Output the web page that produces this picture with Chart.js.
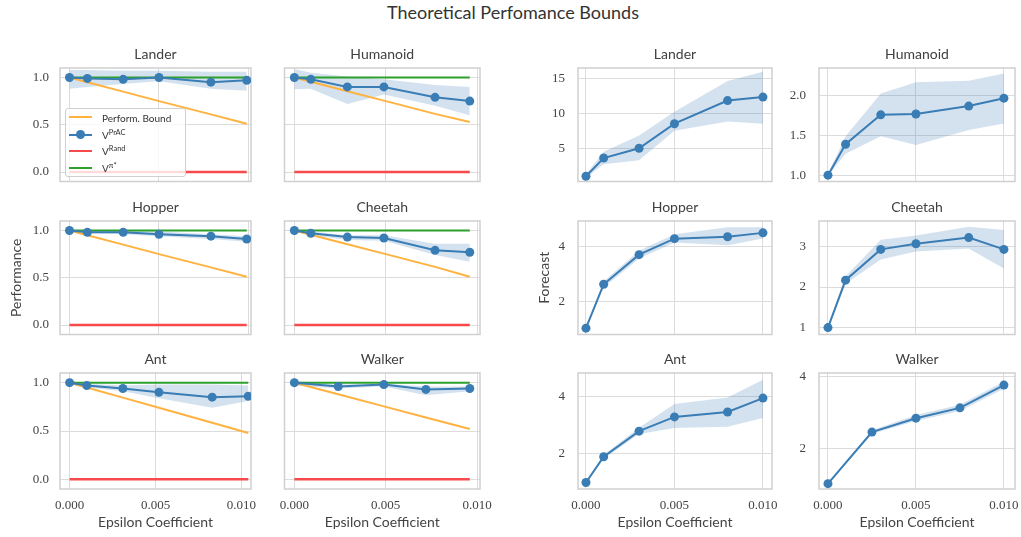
<!DOCTYPE html>
<html>
<head>
<meta charset="utf-8">
<script src="https://cdn.jsdelivr.net/npm/chart.js@4.4.0/dist/chart.umd.min.js"></script>
<style>
body{margin:0;background:#fff;width:1021px;height:537px;overflow:hidden;position:relative;font-family:Lato,sans-serif}
canvas{position:absolute}
#suptitle{position:absolute;left:0;top:0;width:1026px;text-align:center;font-size:18px;line-height:24px;color:#333}
#legend{position:absolute;left:65px;top:108px;width:121px;height:69px;box-sizing:border-box;background:rgba(255,255,255,0.8);border:1px solid #d0d0d0;border-radius:3px;z-index:5;color:#333;font-size:10px}
#legend .ln{position:absolute;left:3px;width:23px;height:2px}
#legend .dot{position:absolute;left:10px;width:9px;height:9px;border-radius:50%}
#legend .tx{position:absolute;left:36px;line-height:12px;white-space:nowrap}
#legend sup{font-size:7.5px;vertical-align:4px;line-height:0}
</style>
</head>
<body>
<div id="suptitle">Theoretical Perfomance Bounds</div>
<div id="legend">
  <span class="ln" style="top:7px;background:#ffb23f"></span><span class="tx" style="top:3px">Perform. Bound</span>
  <span class="ln" style="top:25px;background:#3a7db5"></span><span class="dot" style="top:21px;background:#3a7db5"></span><span class="tx" style="top:20px">V<sup>PrAC</sup></span>
  <span class="ln" style="top:41px;background:#f74a4a"></span><span class="tx" style="top:36px">V<sup>Rand</sup></span>
  <span class="ln" style="top:58px;background:#2ca02c"></span><span class="tx" style="top:53px">V<sup>π*</sup></span>
</div>
<script>
// x values (epsilon) as read per panel
const epsLeft1 = [0, 0.001, 0.003, 0.005, 0.0079, 0.0099];      // Lander, Hopper (left)
const epsLeft2 = [0, 0.0009, 0.0029, 0.0049, 0.0077, 0.0096];   // Humanoid, Cheetah (left)
const epsAntL = [0, 0.001, 0.0031, 0.0052, 0.0083, 0.0104];
const epsWalkerL = [0, 0.0024, 0.0049, 0.0072, 0.0096];
const epsRight = [0, 0.001, 0.003, 0.005, 0.008, 0.01];
const epsWalkerR = [0, 0.0025, 0.005, 0.0075, 0.01];

const randValue = 0;
const optValue = 1;

// performance (left block)
const landerPrac = [1.0, 0.99, 0.98, 1.0, 0.95, 0.97];
const landerLo = [0.88, 0.9, 0.93, 0.96, 0.88, 0.86];
const landerHi = [1.08, 1.08, 1.07, 1.07, 1.06, 1.06];
const landerBound = [1.0, 0.95, 0.85, 0.75, 0.61, 0.51];

const humanoidPrac = [1.0, 0.98, 0.9, 0.9, 0.79, 0.75];
const humanoidLo = [0.875, 0.88, 0.72, 0.82, 0.7, 0.6];
const humanoidHi = [1.09, 1.05, 1.01, 0.98, 0.92, 0.9];
const humanoidBound = [1.0, 0.955, 0.855, 0.755, 0.615, 0.53];

const hopperPrac = [1.0, 0.98, 0.98, 0.96, 0.94, 0.91];
const hopperLo = [0.99, 0.97, 0.96, 0.94, 0.91, 0.88];
const hopperHi = [1.01, 1.0, 1.0, 0.99, 0.96, 0.94];
const hopperBound = [1.0, 0.95, 0.85, 0.75, 0.61, 0.51];

const cheetahPrac = [1.0, 0.97, 0.93, 0.92, 0.79, 0.77];
const cheetahLo = [0.99, 0.95, 0.9, 0.89, 0.74, 0.67];
const cheetahHi = [1.01, 0.99, 0.95, 0.95, 0.86, 0.86];
const cheetahBound = [1.0, 0.955, 0.855, 0.755, 0.615, 0.51];

const antPrac = [1.0, 0.97, 0.94, 0.9, 0.85, 0.86];
const antLo = [0.98, 0.95, 0.91, 0.84, 0.74, 0.81];
const antHi = [1.02, 0.99, 0.97, 0.98, 0.98, 0.97];
const antBound = [1.0, 0.95, 0.845, 0.74, 0.585, 0.48];

const walkerPrac = [1.0, 0.96, 0.98, 0.93, 0.94];
const walkerLo = [0.97, 0.94, 0.96, 0.87, 0.91];
const walkerHi = [1.02, 0.98, 0.99, 0.96, 0.96];
const walkerBound = [1.0, 0.88, 0.755, 0.64, 0.52];

// forecast (right block)
const landerFc = [1.1, 3.7, 5.1, 8.6, 11.9, 12.4];
const landerFcLo = [0.9, 2.8, 3.4, 7.6, 8.9, 8.6];
const landerFcHi = [1.4, 4.6, 6.9, 10.3, 14.7, 16.0];

const humanoidFc = [1.0, 1.39, 1.76, 1.77, 1.87, 1.97];
const humanoidFcLo = [0.99, 1.27, 1.49, 1.38, 1.57, 1.65];
const humanoidFcHi = [1.01, 1.49, 2.03, 2.17, 2.19, 2.28];

const hopperFc = [1.05, 2.64, 3.71, 4.29, 4.36, 4.5];
const hopperFcLo = [1.0, 2.52, 3.57, 4.15, 4.05, 4.3];
const hopperFcHi = [1.1, 2.75, 3.85, 4.45, 4.7, 4.7];

const cheetahFc = [1.0, 2.17, 2.93, 3.07, 3.22, 2.93];
const cheetahFcLo = [0.98, 2.08, 2.68, 2.88, 2.95, 2.46];
const cheetahFcHi = [1.02, 2.27, 3.17, 3.27, 3.49, 3.41];

const antFc = [1.0, 1.9, 2.8, 3.3, 3.47, 3.96];
const antFcLo = [0.97, 1.83, 2.7, 2.91, 2.95, 3.26];
const antFcHi = [1.03, 1.97, 2.92, 3.75, 3.98, 4.6];

const walkerFc = [1.0, 2.45, 2.84, 3.13, 3.77];
const walkerFcLo = [0.97, 2.4, 2.76, 3.04, 3.67];
const walkerFcHi = [1.03, 2.5, 2.93, 3.22, 3.87];

// tick values
const xTicks = [0, 0.005, 0.01];
const perfTicks = [0, 0.5, 1.0];
const landerTicks = [5, 10, 15];
const humanoidTicks = [1.0, 1.5, 2.0];
const hopperTicks = [2, 4];
const cheetahTicks = [1, 2, 3];
const antTicks = [2, 4];
const walkerTicks = [2, 4];

const BLUE = '#3a7db5', BAND = 'rgba(58,125,181,0.22)', ORANGE = '#ffb23f', RED = '#f74a4a', GREEN = '#2ca02c';
const NONE = 'rgba(0,0,0,0)';
const TXT = '#444';

Chart.defaults.font.family = 'Lato';

const pts = (xs, ys) => xs.map((x, i) => ({x: x, y: ys[i]}));

function bandSets(xs, lo, hi) {
  return [
    {data: pts(xs, hi), fill: '+1', backgroundColor: BAND, borderColor: NONE, borderWidth: 0, pointRadius: 0, order: 10},
    {data: pts(xs, lo), fill: false, borderColor: NONE, borderWidth: 0, pointRadius: 0, order: 10}
  ];
}

function perfSets(xs, prac, lo, hi, bound) {
  const a = xs[0], b = xs[xs.length - 1];
  return bandSets(xs, lo, hi).concat([
    {data: pts(xs, bound), borderColor: ORANGE, borderWidth: 2, pointRadius: 0, order: 5},
    {data: [{x: a, y: randValue}, {x: b, y: randValue}], borderColor: RED, borderWidth: 2.5, pointRadius: 0, order: 4},
    {data: [{x: a, y: optValue}, {x: b, y: optValue}], borderColor: GREEN, borderWidth: 2, pointRadius: 0, order: 3},
    {data: pts(xs, prac), borderColor: BLUE, backgroundColor: BLUE, borderWidth: 2, pointRadius: 4.5, pointBorderWidth: 0, order: 1}
  ]);
}

function fcSets(xs, y, lo, hi) {
  return bandSets(xs, lo, hi).concat([
    {data: pts(xs, y), borderColor: BLUE, backgroundColor: BLUE, borderWidth: 2, pointRadius: 4.5, pointBorderWidth: 0, order: 1}
  ]);
}

// grey frame around each plot area
const frame = {
  id: 'frame',
  beforeDatasetsDraw(chart) {
    const a = chart.chartArea, ctx = chart.ctx;
    ctx.save();
    ctx.strokeStyle = '#d0d0d0';
    ctx.lineWidth = 1.5;
    ctx.strokeRect(a.left, a.top, a.right - a.left, a.bottom - a.top);
    ctx.restore();
  }
};

const cols = [
  {l: 60, r: 251, yw: 52, pad: 11},
  {l: 282, r: 480, yw: 0, pad: 11},
  {l: 578, r: 772, yw: 42, pad: 13},
  {l: 819, r: 1015, yw: 40, pad: 13}
];
const rows = [[68, 184], [221, 337], [373, 489]];

function panel(p) {
  const col = cols[p.col], row = rows[p.row];
  const bottom = p.row === 2;
  const xh = bottom ? 42 : 0, titleH = 22;
  const c = document.createElement('canvas');
  c.width = 2 + col.yw + (col.r - col.l) + 22;
  c.height = titleH + (row[1] - row[0]) + xh + 2;
  c.style.left = (col.l - col.yw - 2) + 'px';
  c.style.top = (row[0] - titleH) + 'px';
  document.body.appendChild(c);

  new Chart(c, {
    type: 'line',
    data: {datasets: p.sets},
    options: {
      responsive: false,
      animation: false,
      events: [],
      layout: {padding: {left: 2, right: 22, top: 0, bottom: 2}},
      plugins: {
        legend: {display: false},
        tooltip: {enabled: false},
        title: {display: true, text: p.title, fullSize: false, color: '#404040',
          font: {family: 'Lato', size: 14, weight: 'normal', lineHeight: 1.2}, padding: {top: 0, bottom: 5.2}}
      },
      scales: {
        x: {
          type: 'linear', min: p.xr[0], max: p.xr[1],
          afterBuildTicks: s => { s.ticks = xTicks.map(v => ({value: v})); },
          afterFit: s => { s.height = xh; s.paddingLeft = s.paddingRight = s.paddingTop = s.paddingBottom = 0; },
          grid: {color: '#dcdcdc', lineWidth: 1, drawTicks: false},
          border: {display: false},
          ticks: {display: bottom, padding: 9, color: TXT, font: {family: 'Liberation Serif', size: 13},
            callback: v => v.toFixed(3)},
          title: {display: bottom, text: 'Epsilon Coefficient', color: TXT,
            font: {family: 'Lato', size: 14, lineHeight: 1.2}, padding: 0}
        },
        y: {
          min: p.yr[0], max: p.yr[1],
          afterBuildTicks: s => { s.ticks = p.yt.map(v => ({value: v})); },
          afterFit: s => { s.width = col.yw; s.paddingLeft = s.paddingRight = s.paddingTop = s.paddingBottom = 0; },
          grid: {color: '#dcdcdc', lineWidth: 1, drawTicks: false},
          border: {display: false},
          ticks: {display: col.yw > 0, padding: col.pad, color: TXT, font: {family: 'Liberation Serif', size: 13},
            callback: v => p.fmt ? v.toFixed(1) : String(v)},
          title: {display: !!p.ylabel, text: p.ylabel || '', color: TXT,
            font: {family: 'Lato', size: 14, lineHeight: 1.2}, padding: 0}
        }
      }
    },
    plugins: [frame]
  });
}

const perfY = [-0.1, 1.1];
const xrL1 = [-0.00053, 0.01014], xrAntL = [-0.00056, 0.01056], xrL2 = [-0.00054, 0.01016];
const xrR1 = [-0.00045, 0.01051], xrR2 = [-0.00051, 0.01063];

panel({col: 0, row: 0, title: 'Lander', xr: xrL1, yr: perfY, yt: perfTicks, fmt: true,
  sets: perfSets(epsLeft1, landerPrac, landerLo, landerHi, landerBound)});
panel({col: 1, row: 0, title: 'Humanoid', xr: xrL2, yr: perfY, yt: perfTicks, fmt: true,
  sets: perfSets(epsLeft2, humanoidPrac, humanoidLo, humanoidHi, humanoidBound)});
panel({col: 0, row: 1, title: 'Hopper', xr: xrL1, yr: perfY, yt: perfTicks, fmt: true, ylabel: 'Performance',
  sets: perfSets(epsLeft1, hopperPrac, hopperLo, hopperHi, hopperBound)});
panel({col: 1, row: 1, title: 'Cheetah', xr: xrL2, yr: perfY, yt: perfTicks, fmt: true,
  sets: perfSets(epsLeft2, cheetahPrac, cheetahLo, cheetahHi, cheetahBound)});
panel({col: 0, row: 2, title: 'Ant', xr: xrAntL, yr: perfY, yt: perfTicks, fmt: true,
  sets: perfSets(epsAntL, antPrac, antLo, antHi, antBound)});
panel({col: 1, row: 2, title: 'Walker', xr: xrL2, yr: perfY, yt: perfTicks, fmt: true,
  sets: perfSets(epsWalkerL, walkerPrac, walkerLo, walkerHi, walkerBound)});

panel({col: 2, row: 0, title: 'Lander', xr: xrR1, yr: [0.35, 16.55], yt: landerTicks,
  sets: fcSets(epsRight, landerFc, landerFcLo, landerFcHi)});
panel({col: 3, row: 0, title: 'Humanoid', xr: xrR2, yr: [0.92, 2.35], yt: humanoidTicks, fmt: true,
  sets: fcSets(epsRight, humanoidFc, humanoidFcLo, humanoidFcHi)});
panel({col: 2, row: 1, title: 'Hopper', xr: xrR1, yr: [0.82, 4.93], yt: hopperTicks, ylabel: 'Forecast',
  sets: fcSets(epsRight, hopperFc, hopperFcLo, hopperFcHi)});
panel({col: 3, row: 1, title: 'Cheetah', xr: xrR2, yr: [0.83, 3.63], yt: cheetahTicks,
  sets: fcSets(epsRight, cheetahFc, cheetahFcLo, cheetahFcHi)});
panel({col: 2, row: 2, title: 'Ant', xr: xrR1, yr: [0.77, 4.84], yt: antTicks,
  sets: fcSets(epsRight, antFc, antFcLo, antFcHi)});
panel({col: 3, row: 2, title: 'Walker', xr: xrR2, yr: [0.85, 4.11], yt: walkerTicks,
  sets: fcSets(epsWalkerR, walkerFc, walkerFcLo, walkerFcHi)});
</script>
</body>
</html>
